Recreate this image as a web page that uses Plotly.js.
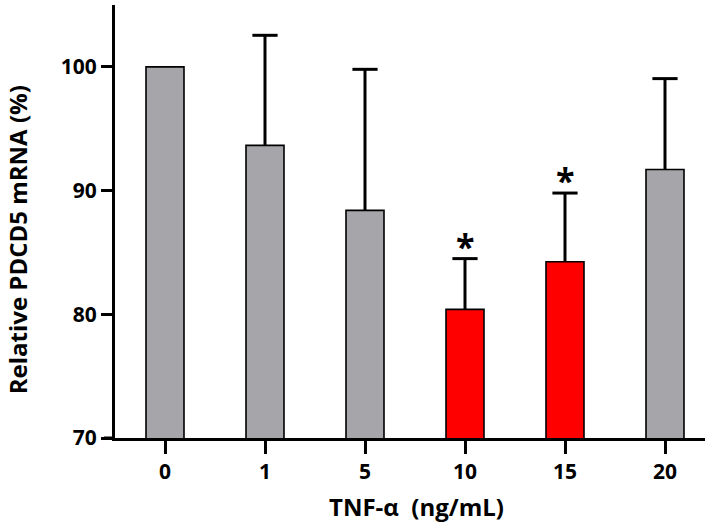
<!DOCTYPE html>
<html>
<head>
<meta charset="utf-8">
<script src="https://cdn.plot.ly/plotly-3.0.1.min.js"></script>
<style>html,body{margin:0;padding:0;background:#fff;}#chart{width:709px;height:525px;}</style>
</head>
<body>
<div id="chart"></div>
<script>
// ---- data ----
var doses = ["0", "1", "5", "10", "15", "20"];
var meanValues = [100, 93.65, 88.4, 80.4, 84.25, 91.7];
var sdPlus = [0, 8.9, 11.4, 4.1, 5.55, 7.35];
var significant = [false, false, false, true, true, false];
var yTickVals = [70, 80, 90, 100];
var xTitle = "TNF-\u03b1\u00a0 (ng/mL)";
var yTitle = "Relative PDCD5 mRNA (%)";

// ---- styles ----
var GRAY = "#a6a5aa";
var RED = "#ff0000";
var FONT = "Open Sans, DejaVu Sans, sans-serif";
var titleFont = { family: FONT, size: 24, color: "#000", weight: "bold" };

var barColors = significant.map(function (s) { return s ? RED : GRAY; });

var bars = {
  type: "bar",
  x: doses,
  y: meanValues,
  width: 0.38,
  marker: { color: barColors, line: { color: "#000", width: 1.6 } },
  hoverinfo: "none"
};

// upper error bars (stem from bar top to mean + SD), built from the data
var stemX = [], stemY = [], capX = [], capY = [];
doses.forEach(function (d, i) {
  if (sdPlus[i] > 0) {
    stemX.push(d, d, null);
    stemY.push(meanValues[i], meanValues[i] + sdPlus[i], null);
    capX.push(d);
    capY.push(meanValues[i] + sdPlus[i]);
  }
});
var stems = {
  type: "scatter", mode: "lines", x: stemX, y: stemY,
  line: { color: "#000", width: 3 }, hoverinfo: "none", cliponaxis: false
};
var caps = {
  type: "scatter", mode: "markers", x: capX, y: capY,
  marker: { symbol: "line-ew", size: 18, color: "#000", line: { color: "#000", width: 3 } },
  hoverinfo: "none", cliponaxis: false
};

var annotations = [];
doses.forEach(function (d, i) {
  if (significant[i]) {
    annotations.push({
      x: i, y: meanValues[i] + sdPlus[i],
      xref: "x", yref: "y",
      text: "*", showarrow: false,
      yanchor: "bottom", yshift: -12,
      font: { family: FONT, size: 34, color: "#000", weight: "bold" }
    });
  }
});
// axis titles
annotations.push({
  text: yTitle, textangle: -90, showarrow: false,
  xref: "paper", yref: "paper", x: -0.165, y: 0.458,
  xanchor: "center", yanchor: "middle", font: titleFont
});
annotations.push({
  text: xTitle, showarrow: false,
  xref: "paper", yref: "paper", x: 0.511, y: -0.158,
  xanchor: "center", yanchor: "middle", font: titleFont
});

var layout = {
  width: 709, height: 525,
  margin: { l: 115, r: 4, t: 5, b: 87 },
  paper_bgcolor: "#fff", plot_bgcolor: "#fff",
  showlegend: false,
  font: { family: FONT, size: 21, color: "#000", weight: "bold" },
  xaxis: {
    type: "category",
    range: [-0.5, 5.4],
    showline: true, linecolor: "#000", linewidth: 3,
    ticks: "outside", ticklen: 13, tickwidth: 3, tickcolor: "#000",
    showgrid: false, zeroline: false,
    tickfont: { family: FONT, size: 21, color: "#000", weight: "bold" },
    fixedrange: true
  },
  yaxis: {
    range: [70, 105],
    tickvals: yTickVals,
    ticktext: yTickVals.map(String),
    showline: true, linecolor: "#000", linewidth: 3,
    ticks: "outside", ticklen: 11, tickwidth: 3, tickcolor: "#000",
    showgrid: false, zeroline: false,
    tickfont: { family: FONT, size: 21, color: "#000", weight: "bold" },
    fixedrange: true
  },
  shapes: [{
    type: "line", xref: "paper", yref: "paper",
    x0: -11 / 590, x1: 0, y0: 0, y1: 0,
    line: { color: "#000", width: 3 }
  }],
  annotations: annotations
};

Plotly.newPlot("chart", [bars, stems, caps], layout, { displayModeBar: false, staticPlot: true });
</script>
</body>
</html>
